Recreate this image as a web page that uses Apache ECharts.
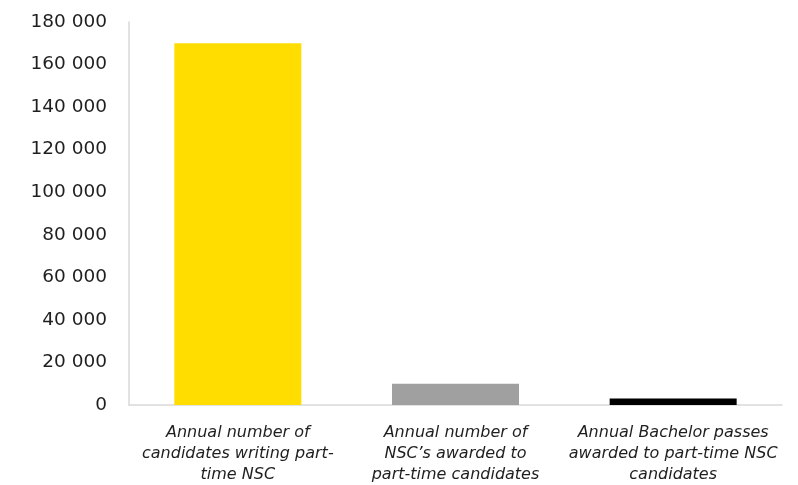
<!DOCTYPE html>
<html>
<head>
<meta charset="utf-8">
<script src="https://cdn.jsdelivr.net/npm/echarts@6/dist/echarts.min.js"></script>
<style>html,body{margin:0;padding:0;background:#fff}#c{width:798px;height:485px}</style>
</head>
<body>
<div id="c"></div>
<script>
const categories = [
  "Annual number of\ncandidates writing part-\ntime NSC",
  "Annual number of\nNSC’s awarded to\npart-time candidates",
  "Annual Bachelor passes\nawarded to part-time NSC\ncandidates"
];
const values = [170000, 10000, 3000];
const barColors = ["#FFDD00", "#A0A0A0", "#000000"];
const yTicks = [0, 20000, 40000, 60000, 80000, 100000, 120000, 140000, 160000, 180000];

const chart = echarts.init(document.getElementById('c'), null, {renderer: 'canvas'});
chart.setOption({
  animation: false,
  grid: {left: 129, right: 16, top: 22, bottom: 75},
  xAxis: {
    type: 'category',
    data: categories,
    axisLine: {lineStyle: {color: '#D9D9D9', width: 1.5}},
    axisTick: {show: false},
    axisLabel: {
      interval: 0, margin: 17, fontFamily: 'DejaVu Sans', fontStyle: 'italic',
      fontSize: 16, lineHeight: 21, color: '#1F1F1F'
    }
  },
  yAxis: {
    type: 'value', min: 0, max: 180000, interval: 20000,
    axisLine: {show: true, lineStyle: {color: '#D9D9D9', width: 1.5}},
    axisTick: {show: false},
    splitLine: {show: false},
    axisLabel: {
      margin: 22, fontFamily: 'DejaVu Sans', fontSize: 18.5, color: '#1F1F1F',
      formatter: v => yTicks.includes(v) ? String(v).replace(/\B(?=(\d{3})+(?!\d))/g, ' ') : ''
    }
  },
  series: [{
    type: 'bar',
    barWidth: 127,
    data: values.map((v, i) => ({value: v, itemStyle: {color: barColors[i]}}))
  }]
});
</script>
</body>
</html>
